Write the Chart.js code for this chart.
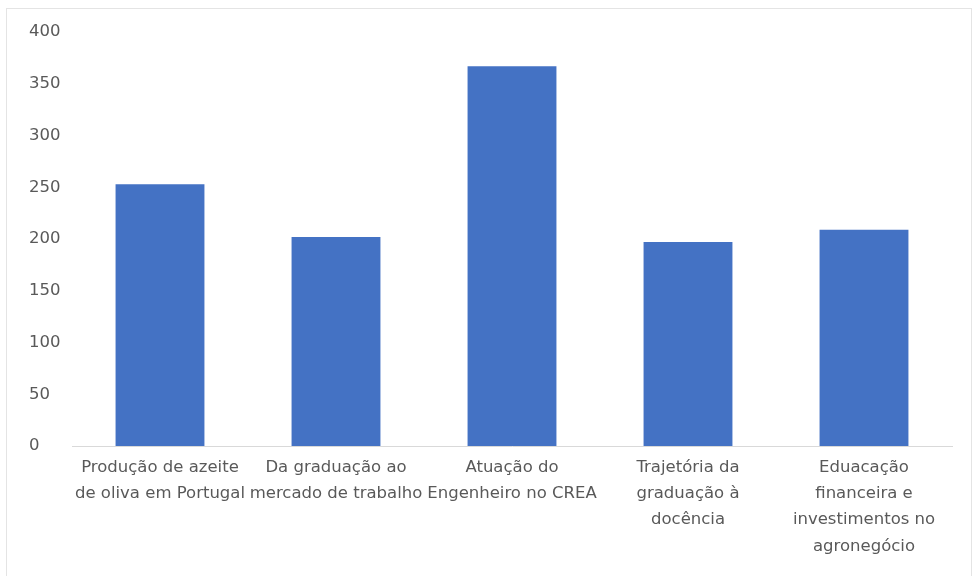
<!DOCTYPE html>
<html>
<head>
<meta charset="utf-8">
<script src="https://cdn.jsdelivr.net/npm/chart.js@4.4.1/dist/chart.umd.min.js"></script>
<style>
  html, body { margin: 0; padding: 0; background: #fff; }
  #frame {
    position: absolute; left: 6px; top: 8px; width: 966px; height: 580px;
    border: 1px solid #e4e4e4; box-sizing: border-box;
  }
  #wrap { position: absolute; left: 0; top: 0; width: 974px; height: 576px; }
</style>
</head>
<body>
<div id="frame"></div>
<div id="wrap"><canvas id="chart"></canvas></div>
<script>
// categorias (rótulos em várias linhas, como no original)
const categories = [
    ['Produção de azeite', 'de oliva em Portugal'],
    ['Da graduação ao', 'mercado de trabalho'],
    ['Atuação do', 'Engenheiro no CREA'],
    ['Trajetória da', 'graduação à', 'docência'],
    ['Eduacação', 'financeira e', 'investimentos no', 'agronegócio']
];

const values = [253, 202, 367, 197, 209];

const yMin = 0;
const yMax = 400;
const yStep = 50;

const ctx = document.getElementById('chart').getContext('2d');
new Chart(ctx, {
    type: 'bar',
    data: {
        labels: categories,
        datasets: [{
            data: values,
            backgroundColor: '#4472C4',
            borderWidth: 0,
            categoryPercentage: 1,
            barPercentage: 0.505
        }]
    },
    options: {
        responsive: true,
        maintainAspectRatio: false,
        animation: false,
        layout: {
            padding: { left: 29, right: 22, top: 32, bottom: 0 }
        },
        plugins: {
            legend: { display: false },
            tooltip: { enabled: false }
        },
        scales: {
            x: {
                grid: { display: false, drawTicks: false },
                border: { display: true, color: '#d9d9d9', width: 1 },
                ticks: {
                    color: '#595959',
                    font: { family: 'DejaVu Sans', size: 16.5, lineHeight: 1.58 },
                    maxRotation: 0,
                    autoSkip: false,
                    padding: 9
                },
                afterFit: function(scale) { scale.height = 130; }
            },
            y: {
                min: yMin,
                max: yMax,
                grid: { display: false, drawTicks: false },
                border: { display: false },
                ticks: {
                    stepSize: yStep,
                    color: '#595959',
                    font: { family: 'DejaVu Sans', size: 16.5 },
                    crossAlign: 'far',
                    padding: 0
                },
                afterFit: function(scale) { scale.width = 43; }
            }
        }
    }
});
</script>
</body>
</html>
